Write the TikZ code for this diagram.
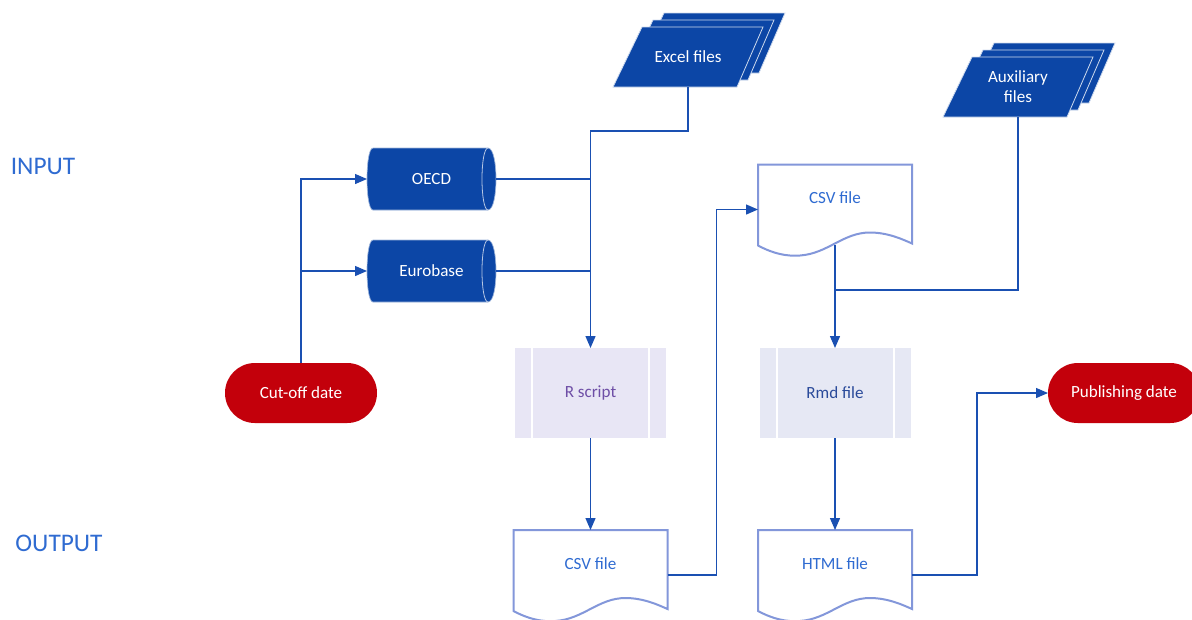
\documentclass[tikz,border=0pt]{standalone}
\usepackage{fontspec}
\setmainfont{Carlito}
\usetikzlibrary{arrows.meta,backgrounds,calc}
\definecolor{dblue}{HTML}{0C46A6}
\definecolor{cblue}{HTML}{1A50B2}
\definecolor{docline}{HTML}{8397DA}
\definecolor{doctext}{HTML}{2F6BD1}
\definecolor{lav}{HTML}{E8E6F5}
\definecolor{lavtext}{HTML}{6E4EA6}
\definecolor{pale}{HTML}{E6E8F4}
\definecolor{paletext}{HTML}{2A4A9A}
\definecolor{dred}{HTML}{C3000B}
\definecolor{labelblue}{HTML}{2F6BD1}

\tikzset{
 base/.style={inner sep=0pt, outer sep=0pt, font=\fontsize{12.8}{15}\selectfont, align=center},
 ioshape/.style={base, minimum width=112.5pt, minimum height=45pt, text=white},
 store/.style={base, minimum width=96.75pt, minimum height=46.5pt, text=white},
 proc/.style={base, minimum width=113.25pt, minimum height=67.5pt},
 docnode/.style={base, minimum width=115.5pt, minimum height=67.5pt},
 doctxt/.style={base, text=doctext},
 term/.style={base, minimum width=114pt, minimum height=45pt, fill=dred, rounded corners=22.4pt, text=white},
 conn/.style={draw=cblue, line width=1pt},
 arrow/.style={conn, -{Triangle[length=9pt,width=7.5pt]}},
 stagelabel/.style={font=\fontsize{19}{22}\selectfont, text=labelblue, inner sep=0pt},
}

\newcommand\stackshape[1]{%
 \foreach \dx/\dy in {22/-14, 11/-7, 0/0} {
  \path[fill=dblue, draw=white!80!dblue, line width=0.6pt, shift={(#1.north west)}, shift={(\dx,\dy)}]
    (29,0) -- (150,0) -- (124,60) -- (0,60) -- cycle;
 }}
\newcommand\storeshape[1]{%
 \begin{scope}[shift={(#1.north west)}]
 \path[fill=dblue, draw=white!60!dblue, line width=0.5pt] (6,0) -- (121,0) .. controls (131.7,0) and (131.7,62) .. (121,62) -- (6,62) .. controls (-2,62) and (-2,0) .. (6,0) -- cycle;
 \draw[white!70!dblue, line width=0.6pt] (121,0) .. controls (113,0) and (113,62) .. (121,62);
 \end{scope}}
\newcommand\procshape[2]{%
 \begin{scope}[shift={(#1.north west)}]
 \fill[#2] (0,0) rectangle (151,90);
 \draw[white, line width=1.5pt] (17,0) -- (17,90) (134,0) -- (134,90);
 \end{scope}}
\newcommand\docshape[1]{%
 \begin{scope}[shift={(#1.north west)}]
 \draw[docline, line width=1.5pt, fill=white] (0,81) -- (0,0) -- (154,0) -- (154,79)
   .. controls (145,75) and (130,68) .. (112,68)
   .. controls (85,68) and (70,89) .. (42,91)
   .. controls (28,92) and (15,89) .. (0,81) -- cycle;
 \end{scope}}

\begin{document}
\begin{tikzpicture}[x=0.75pt,y=-0.75pt]
\useasboundingbox (0,0) rectangle (1192,619);

% stage labels
\node[stagelabel] (inlabel) at (43,166) {INPUT};
\node[stagelabel] (outlabel) at (59,543) {OUTPUT};

% nodes
\node[ioshape] (excel) at (688,57) {Excel files};
\node[ioshape] (aux) at (1018,87) {Auxiliary\\files};
\node[store] (oecd) at (431.5,179) {OECD};
\node[store] (euro) at (431.5,271) {Eurobase};
\node[proc, text=lavtext] (rscript) at (590.5,393) {R script};
\node[proc, text=paletext] (rmd) at (835,393) {Rmd file};
\node[docnode] (csv1) at (590.5,575) {};
\node[docnode] (csv2) at (835,209.5) {};
\node[docnode] (html) at (835,575) {};
\node[term] (cutoff) at (301,393) {Cut-off date};
\node[term] (pub) at (1124,393) {Publishing date};

\begin{scope}[on background layer]
 \stackshape{excel}
 \stackshape{aux}
 \storeshape{oecd}
 \storeshape{euro}
 \procshape{rscript}{lav}
 \procshape{rmd}{pale}
 \docshape{csv1}
 \docshape{csv2}
 \docshape{html}
\end{scope}

\node[doctxt] (csv1t) at ([yshift=8.25pt]csv1.center) {CSV file};
\node[doctxt] (csv2t) at ([yshift=8.6pt]csv2.center) {CSV file};
\node[doctxt] (htmlt) at ([yshift=8.25pt]html.center) {HTML file};

% connectors
\draw[arrow] (cutoff.north) |- (oecd.west);
\draw[arrow] (cutoff.north) |- (euro.west);
\draw[arrow] (excel.south) -- ++(0,44) -| (rscript.north);
\draw[conn] (oecd.east) -- (oecd.east -| rscript.north);
\draw[conn] (euro.east) -- (euro.east -| rscript.north);
\draw[arrow] (rscript.south) -- (csv1.north);
\draw[arrow] (csv1.east) -- ++(49,0) |- (csv2.west);
\draw[arrow] ([yshift=7.5pt]csv2.south) -- (rmd.north);
\draw[conn] (aux.south) -- ++(0,173) coordinate (auxbend) -- (auxbend -| rmd.north);
\draw[arrow] (rmd.south) -- (html.north);
\draw[arrow] (html.east) -- ++(65,0) |- (pub.west);
\end{tikzpicture}
\end{document}
